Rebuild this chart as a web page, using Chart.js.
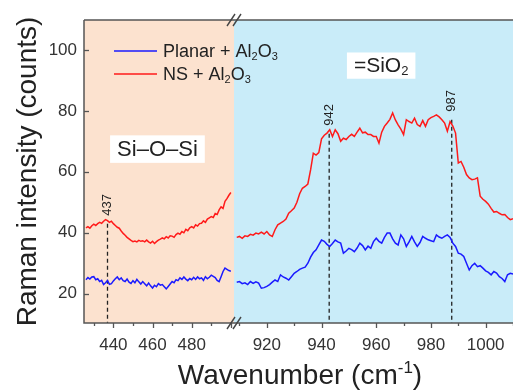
<!DOCTYPE html>
<html>
<head>
<meta charset="utf-8">
<title>Raman spectra</title>
<script src="https://cdn.jsdelivr.net/npm/chart.js@4.4.0/dist/chart.umd.min.js"></script>
<style>
  html, body { margin: 0; padding: 0; background: #fff; }
  #wrap { position: relative; width: 513px; height: 392px; }
  #wrap canvas { position: absolute; left: 0; top: 0; }
</style>
</head>
<body>
<div id="wrap">
  <canvas id="rightChart" width="513" height="392"></canvas>
  <canvas id="leftChart" width="513" height="392"></canvas>
</div>
<script>
const FONT = 'Arial, "Liberation Sans", Helvetica, sans-serif';

// wavenumber grid (cm-1, step 1)
const leftStart = 426;
const rightStart = 909;

// Si-O-Si region, 426..500
const leftRed = [
  41.6, 42.0, 41.5, 42.3, 42.8, 42.4, 43.0, 43.4, 43.1, 43.8,
  44.3, 44.0, 43.4, 43.8, 43.0, 42.4, 41.8, 41.5, 40.6, 39.8,
  39.2, 38.5, 38.0, 37.5, 37.1, 37.3, 37.0, 37.5, 37.2, 37.4,
  37.0, 37.6, 37.0, 36.6, 37.2, 36.5, 37.1, 37.6, 37.9, 38.3,
  38.0, 38.7, 38.3, 39.0, 38.9, 38.5, 39.4, 39.9, 39.5, 40.4,
  40.0, 41.1, 40.7, 41.6, 42.0, 41.6, 42.6, 42.2, 43.0, 43.1,
  43.9, 43.4, 44.5, 44.9, 45.3, 45.0, 46.3, 46.0, 47.5, 48.5,
  48.0, 50.3, 51.2, 52.3, 53.2
];
const leftBlue = [
  24.6, 25.3, 24.8, 25.5, 25.6, 24.6, 24.9, 24.0, 24.4, 23.0,
  23.6, 24.3, 23.1, 23.3, 24.2, 24.9, 25.5, 24.6, 25.2, 24.3,
  24.0, 24.8, 23.8, 23.4, 24.3, 23.6, 24.7, 23.9, 23.2, 24.0,
  23.3, 22.6, 23.5, 22.6, 21.9, 22.8, 22.3, 23.3, 22.8, 23.0,
  22.3, 21.6, 22.4, 23.2, 24.0, 23.6, 24.6, 24.3, 25.2, 24.7,
  25.5, 24.8, 24.3, 25.0, 24.6, 25.4, 24.7, 25.5, 24.9, 25.2,
  24.4, 25.6, 24.9, 25.4, 26.1, 25.7, 25.3, 24.4, 24.0, 25.6,
  27.3, 28.4, 28.0, 27.6, 27.4
];

// =SiO2 region, 909..1010
const rightRed = [
  38.5, 38.8, 38.2, 39.0, 38.8, 39.5, 39.2, 39.9, 39.6, 40.2,
  39.6, 40.4, 39.3, 38.8, 41.0, 42.6, 43.2, 43.7, 44.5, 46.4,
  47.2, 48.1, 50.0, 52.8, 54.6, 55.2, 56.0, 60.6, 66.1, 65.5,
  66.3, 70.8, 72.0, 72.7, 73.8, 71.6, 73.8, 72.5, 70.0, 71.0,
  70.6, 71.6, 72.3, 71.6, 73.0, 74.3, 72.8, 73.0, 72.2, 72.2,
  71.6, 71.6, 69.4, 73.0, 74.9, 76.0, 77.2, 79.3, 77.0, 75.4,
  74.0, 72.2, 77.1, 76.5, 76.0, 77.6, 75.5, 74.9, 76.8, 74.9,
  77.1, 77.8, 78.2, 78.7, 78.0, 77.1, 76.0, 73.3, 76.5, 75.0,
  72.7, 62.9, 63.4, 61.5, 59.1, 58.0, 57.4, 57.6, 58.0, 52.0,
  51.0, 50.3, 49.4, 48.0, 46.8, 47.0, 46.4, 45.9, 46.0, 45.0,
  44.3, 44.6
];
const rightBlue = [
  23.8, 24.0, 23.3, 23.6, 23.0, 24.0, 23.4, 23.9, 23.5, 21.8,
  22.0, 22.4, 23.0, 23.8, 24.5, 24.0, 26.2, 25.5, 25.1, 24.5,
  25.6, 26.7, 27.3, 28.0, 28.4, 28.7, 30.0, 32.0, 33.5, 34.4,
  36.0, 37.6, 37.2, 36.2, 35.5, 36.5, 37.6, 37.0, 36.6, 33.3,
  34.0, 34.9, 34.5, 33.8, 35.0, 36.6, 35.8, 34.4, 35.6, 34.9,
  37.1, 38.2, 37.2, 36.6, 38.5, 39.9, 39.9, 38.0, 36.6, 36.0,
  39.3, 38.0, 35.5, 37.0, 38.8, 37.0, 35.5, 36.8, 38.8, 38.2,
  37.7, 37.4, 37.1, 39.3, 38.6, 38.2, 38.8, 39.3, 38.5, 36.6,
  35.5, 33.3, 33.0, 32.2, 30.0, 27.8, 29.2, 30.0, 28.9, 29.2,
  28.4, 27.5, 27.0, 26.2, 27.3, 26.8, 25.6, 25.0, 24.0, 26.2,
  26.7, 26.5
];

const seriesNames = ['Planar + Al2O3', 'NS + Al2O3'];
const seriesColors = ['#1a1aff', '#ff1a1a'];

// peak markers (position, top of dashed line, label)
const peakPos = [437, 942.8, 987.6];
const peakTop = [43.0, 72.5, 77.1];
const peakText = ['437', '942', '987'];

const leftTickLabels = [440, 460, 480];
const rightTickLabels = [920, 940, 960, 980, 1000];
const yTickStep = 20;

const xLeftRange = [425, 501.6];
const xRightRange = [908, 1010];
const yRange = [10.4, 109.8];

const PEACH = '#fce2cf';
const SKY = '#c9ecf9';
const AXIS = '#555';

function toPoints(start, values) {
  return values.map((v, i) => ({ x: start + i, y: v }));
}

function peakDataset(i) {
  return {
    data: [{ x: peakPos[i], y: peakTop[i] }, { x: peakPos[i], y: yRange[0] }],
    borderColor: '#222',
    borderWidth: 1.3,
    borderDash: [4, 3],
    pointRadius: 0
  };
}

// text with sub/superscripts: parts = [[text, kind]]
function drawRich(ctx, parts, x, y, size, center, color) {
  const fontFor = k => (k ? Math.round(size * 0.62) : size) + 'px ' + FONT;
  let w = 0;
  parts.forEach(([t, k]) => { ctx.font = fontFor(k); w += ctx.measureText(t).width; });
  let cx = center ? x - w / 2 : x;
  ctx.fillStyle = color || '#222';
  ctx.textAlign = 'left';
  ctx.textBaseline = 'alphabetic';
  parts.forEach(([t, k]) => {
    ctx.font = fontFor(k);
    const dy = k === 'sub' ? size * 0.14 : (k === 'sup' ? -size * 0.4 : 0);
    ctx.fillText(t, cx, y + dy);
    cx += ctx.measureText(t).width;
  });
  return w;
}

function chemParts(s) {
  // digits after a letter become subscripts
  return s.split(/(\d)/).filter(p => p !== '').map(p => /\d/.test(p) ? [p, 'sub'] : [p, null]);
}

function textBox(ctx, parts, cx, baseline, size) {
  let w = 0;
  parts.forEach(([t, k]) => {
    ctx.font = (k ? Math.round(size * 0.62) : size) + 'px ' + FONT;
    w += ctx.measureText(t).width;
  });
  ctx.fillStyle = '#fff';
  ctx.fillRect(cx - w / 2 - 7, baseline - size * 0.95, w + 14, size * 1.25);
  drawRich(ctx, parts, cx, baseline, size, true, '#222');
}

function drawXTicks(chart) {
  const { ctx, chartArea: a } = chart;
  const sx = chart.scales.x;
  ctx.save();
  ctx.strokeStyle = AXIS;
  ctx.lineWidth = 1.3;
  sx.ticks.forEach(t => {
    const px = Math.round(sx.getPixelForValue(t.value)) + 0.5;
    const len = t.value % 20 === 0 ? 5 : 3;
    ctx.beginPath();
    ctx.moveTo(px, a.bottom);
    ctx.lineTo(px, a.bottom + len);
    ctx.stroke();
  });
  ctx.restore();
}

function drawPeakLabels(chart) {
  const { ctx } = chart;
  const sx = chart.scales.x, sy = chart.scales.y;
  ctx.save();
  ctx.fillStyle = '#222';
  ctx.font = '13px ' + FONT;
  peakPos.forEach((p, i) => {
    if (p < sx.min || p > sx.max) return;
    const px = sx.getPixelForValue(p);
    const py = sy.getPixelForValue(peakTop[i]);
    ctx.save();
    ctx.translate(px, py - 8);
    ctx.rotate(-Math.PI / 2);
    ctx.textAlign = 'left';
    ctx.textBaseline = 'middle';
    ctx.fillText(peakText[i], 0, 0);
    ctx.restore();
  });
  ctx.restore();
}

const leftDeco = {
  id: 'leftDeco',
  beforeDatasetsDraw(chart) {
    const { ctx, chartArea: a } = chart;
    ctx.save();
    ctx.fillStyle = PEACH;
    ctx.fillRect(a.left, a.top, a.right - a.left, a.bottom - a.top);
    ctx.restore();
  },
  afterDraw(chart) {
    const { ctx, chartArea: a } = chart;
    const sx = chart.scales.x, sy = chart.scales.y;
    ctx.save();
    // frame
    ctx.strokeStyle = AXIS;
    ctx.lineWidth = 1.5;
    ctx.beginPath();
    ctx.moveTo(a.left, a.top); ctx.lineTo(a.right, a.top);
    ctx.moveTo(a.left, a.top); ctx.lineTo(a.left, a.bottom);
    ctx.lineTo(a.right, a.bottom);
    ctx.stroke();
    // y ticks point inward
    ctx.lineWidth = 1.3;
    for (let v = yTickStep; v < yRange[1]; v += yTickStep) {
      const py = Math.round(sy.getPixelForValue(v)) + 0.5;
      ctx.beginPath();
      ctx.moveTo(a.left, py); ctx.lineTo(a.left + 5, py);
      ctx.stroke();
    }
    ctx.restore();
    drawXTicks(chart);
    drawPeakLabels(chart);

    // axis breaks
    ctx.save();
    ctx.strokeStyle = '#444';
    ctx.lineWidth = 1.4;
    [a.top, a.bottom].forEach(y => {
      [-3, 3].forEach(dx => {
        ctx.beginPath();
        ctx.moveTo(a.right + dx - 4, y + 6);
        ctx.lineTo(a.right + dx + 4, y - 6);
        ctx.stroke();
      });
    });
    ctx.restore();

    // legend
    ctx.save();
    seriesNames.forEach((name, i) => {
      const ly = a.top + 31 + i * 23;
      ctx.strokeStyle = seriesColors[i];
      ctx.lineWidth = 1.5;
      ctx.beginPath();
      ctx.moveTo(a.left + 30, ly); ctx.lineTo(a.left + 73, ly);
      ctx.stroke();
      drawRich(ctx, chemParts(name), a.left + 79, ly + 6, 18, false, '#222');
    });
    ctx.restore();

    // region label
    ctx.save();
    textBox(ctx, [['Si\u2013O\u2013Si', null]], sx.getPixelForValue(462.5), sy.getPixelForValue(65.1), 22);
    ctx.restore();

    // x title, spanning both panels
    ctx.save();
    drawRich(ctx, [['Wavenumber (cm', null], ['-1', 'sup'], [')', null]], 300, 384, 28, true, '#222');
    ctx.restore();
  }
};

const rightDeco = {
  id: 'rightDeco',
  beforeDatasetsDraw(chart) {
    const { ctx, chartArea: a } = chart;
    ctx.save();
    ctx.fillStyle = SKY;
    ctx.fillRect(a.left, a.top, a.right - a.left, a.bottom - a.top);
    ctx.restore();
  },
  afterDraw(chart) {
    const { ctx, chartArea: a } = chart;
    const sx = chart.scales.x, sy = chart.scales.y;
    ctx.save();
    ctx.strokeStyle = AXIS;
    ctx.lineWidth = 1.5;
    ctx.beginPath();
    ctx.moveTo(a.left, a.top); ctx.lineTo(a.right, a.top);
    ctx.moveTo(a.left, a.bottom); ctx.lineTo(a.right, a.bottom);
    ctx.stroke();
    ctx.restore();
    drawXTicks(chart);
    drawPeakLabels(chart);
    ctx.save();
    textBox(ctx, [['=SiO', null], ['2', 'sub']], sx.getPixelForValue(961.8), sy.getPixelForValue(92.6), 21);
    ctx.restore();
  }
};

function makeOptions(range, tickLabels, padding, showY) {
  return {
    responsive: false,
    animation: false,
    devicePixelRatio: 1,
    layout: { padding: padding },
    plugins: { legend: { display: false }, tooltip: { enabled: false } },
    elements: { point: { radius: 0 }, line: { borderWidth: 1.5, tension: 0 } },
    scales: {
      x: {
        type: 'linear',
        min: range[0],
        max: range[1],
        afterFit: s => { s.height = 69; s.paddingLeft = 0; s.paddingRight = 0; },
        grid: { display: false, drawTicks: false },
        border: { display: false },
        ticks: {
          stepSize: 10,
          includeBounds: false,
          autoSkip: false,
          maxRotation: 0,
          padding: 12,
          color: '#333',
          font: { size: 17, family: FONT },
          callback: v => tickLabels.includes(v) ? String(v) : ''
        }
      },
      y: {
        display: showY,
        min: yRange[0],
        max: yRange[1],
        afterFit: s => { s.width = showY ? 84 : 0; s.paddingTop = 0; s.paddingBottom = 0; },
        grid: { display: false, drawTicks: false },
        border: { display: false },
        ticks: {
          stepSize: yTickStep,
          includeBounds: false,
          padding: 7,
          color: '#333',
          font: { size: 17, family: FONT }
        },
        title: {
          display: showY,
          text: 'Raman intensity (counts)',
          color: '#222',
          font: { size: 28, family: FONT },
          padding: { top: 11, bottom: 0 }
        }
      }
    }
  };
}

new Chart(document.getElementById('rightChart'), {
  type: 'line',
  data: {
    datasets: [
      { label: seriesNames[0], data: toPoints(rightStart, rightBlue), borderColor: seriesColors[0] },
      { label: seriesNames[1], data: toPoints(rightStart, rightRed), borderColor: seriesColors[1] },
      peakDataset(1),
      peakDataset(2)
    ]
  },
  options: makeOptions(xRightRange, rightTickLabels, { left: 234, right: 0, top: 20, bottom: 0 }, false),
  plugins: [rightDeco]
});

new Chart(document.getElementById('leftChart'), {
  type: 'line',
  data: {
    datasets: [
      { label: seriesNames[0], data: toPoints(leftStart, leftBlue), borderColor: seriesColors[0] },
      { label: seriesNames[1], data: toPoints(leftStart, leftRed), borderColor: seriesColors[1] },
      peakDataset(0)
    ]
  },
  options: makeOptions(xLeftRange, leftTickLabels, { left: 0, right: 513 - 234, top: 20, bottom: 0 }, true),
  plugins: [leftDeco]
});
</script>
</body>
</html>
